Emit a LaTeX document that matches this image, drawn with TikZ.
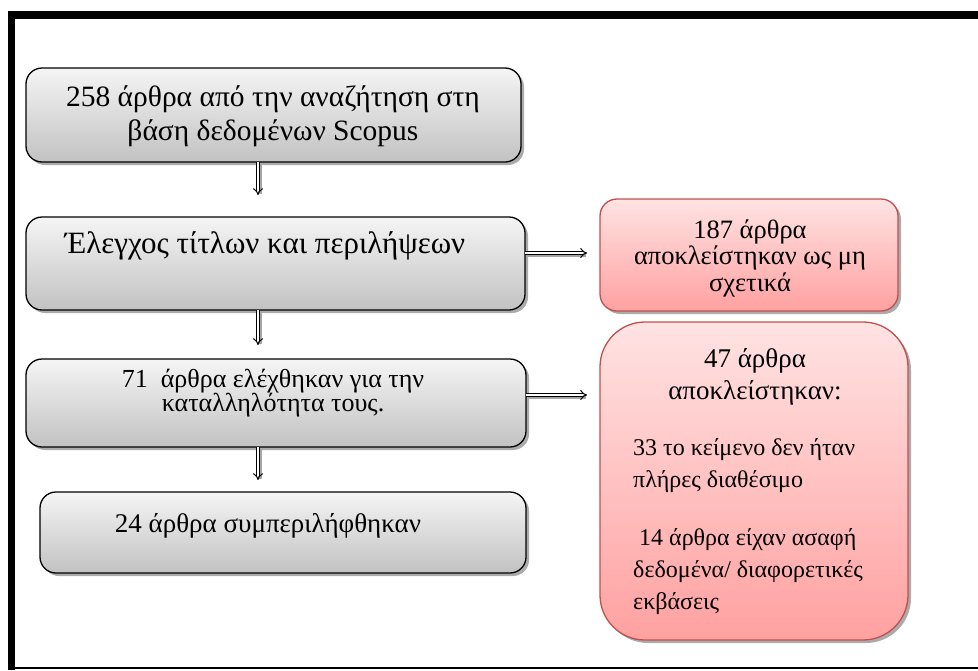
\documentclass[tikz,border=0pt]{standalone}
\usepackage{fontspec}
\setmainfont{Liberation Serif}
\usetikzlibrary{arrows.meta,shadows,calc}
\definecolor{redline}{HTML}{C0504D}
\tikzset{
  box/.style={rounded corners=16pt, draw=black, line width=1.3pt, inner sep=0pt, outer sep=0pt, anchor=north west,
     top color=black!4, bottom color=black!24,
     drop shadow={shadow xshift=3pt, shadow yshift=-3pt, fill=black!55, opacity=0.6}},
  redbox/.style={draw=redline, line width=1.3pt, inner sep=0pt, outer sep=0pt, anchor=north west,
     top color=red!11, bottom color=red!37,
     drop shadow={shadow xshift=3pt, shadow yshift=-3pt, fill=black!55, opacity=0.6}},
  txt/.style={align=center, inner sep=0pt},
  dbl/.style={draw=black, line width=1pt, double=white, double distance=2.4pt, -{Implies[length=3pt]}},
  ashadow/.style={draw=black!35, line width=4pt, shorten >=3pt},
}
\begin{document}
\begin{tikzpicture}[x=1pt,y=-1pt]
\useasboundingbox (0,0) rectangle (978,670);
% frame
\fill[black] (8,11) rectangle (978,19);
\fill[black] (8,11) rectangle (15,670);
\draw[black, line width=2pt] (8,668) -- (978,668);
% gray boxes
\node[box, minimum width=495pt, minimum height=94pt] (b1) at (26,68) {};
\node[box, minimum width=499pt, minimum height=93pt] (b2) at (26,217) {};
\node[box, minimum width=500pt, minimum height=88pt] (b3) at (26,359) {};
\node[box, minimum width=486pt, minimum height=81pt] (b4) at (40,492) {};
% red boxes
\node[redbox, rounded corners=17pt, minimum width=298pt, minimum height=112pt] (r1) at (600,199) {};
\node[redbox, rounded corners=45pt, minimum width=308pt, minimum height=318pt] (r2) at (600,322) {};
% texts
\node[txt, font=\fontsize{29.5}{34}\selectfont] (t1) at (273,116) {258 άρθρα από την αναζήτηση στη\\βάση δεδομένων Scopus};
\node[txt, font=\fontsize{31}{34}\selectfont] (t2) at (265,246) {Έλεγχος τίτλων και περιλήψεων};
\node[txt, font=\fontsize{26}{24.5}\selectfont] (t3) at (273,393) {71\ \ άρθρα ελέχθηκαν για την\\καταλληλότητα τους.};
\node[txt, font=\fontsize{27}{33}\selectfont] (t4) at (268,526) {24 άρθρα συμπεριλήφθηκαν};
\node[txt, font=\fontsize{26.5}{26.5}\selectfont] (t5) at (750,258) {187 άρθρα\\αποκλείστηκαν ως μη\\σχετικά};
\node[txt, font=\fontsize{27}{32}\selectfont] (t6) at (755,377) {47 άρθρα\\αποκλείστηκαν:};
\node[txt, align=left, anchor=west, font=\fontsize{24}{32}\selectfont] (t7) at (633,466) {33 το κείμενο δεν ήταν\\πλήρες διαθέσιμο};
\node[txt, align=left, anchor=west, font=\fontsize{24}{32}\selectfont] (t8) at (633,572) {\ 14 άρθρα είχαν ασαφή\\δεδομένα/ διαφορετικές\\εκβάσεις};
% arrows
\coordinate (a1) at (258,195);
\coordinate (a2) at (258,345);
\coordinate (a3) at (258,480);
\coordinate (h1) at (587,253);
\coordinate (h2) at (587,395);
\draw[ashadow] ($(b1.south -| a1)+(1.5,2)$) -- ($(a1)+(1.5,2)$);
\draw[ashadow] ($(b2.south -| a2)+(1.5,2)$) -- ($(a2)+(1.5,2)$);
\draw[ashadow] ($(b3.south -| a3)+(1.5,2)$) -- ($(a3)+(1.5,2)$);
\draw[ashadow] ($(b2.east |- h1)+(1.5,2)$) -- ($(h1)+(1.5,2)$);
\draw[ashadow] ($(b3.east |- h2)+(1.5,2)$) -- ($(h2)+(1.5,2)$);
\draw[dbl] (b1.south -| a1) -- (a1);
\draw[dbl] (b2.south -| a2) -- (a2);
\draw[dbl] (b3.south -| a3) -- (a3);
\draw[dbl] (b2.east |- h1) -- (h1);
\draw[dbl] (b3.east |- h2) -- (h2);
\end{tikzpicture}
\end{document}
